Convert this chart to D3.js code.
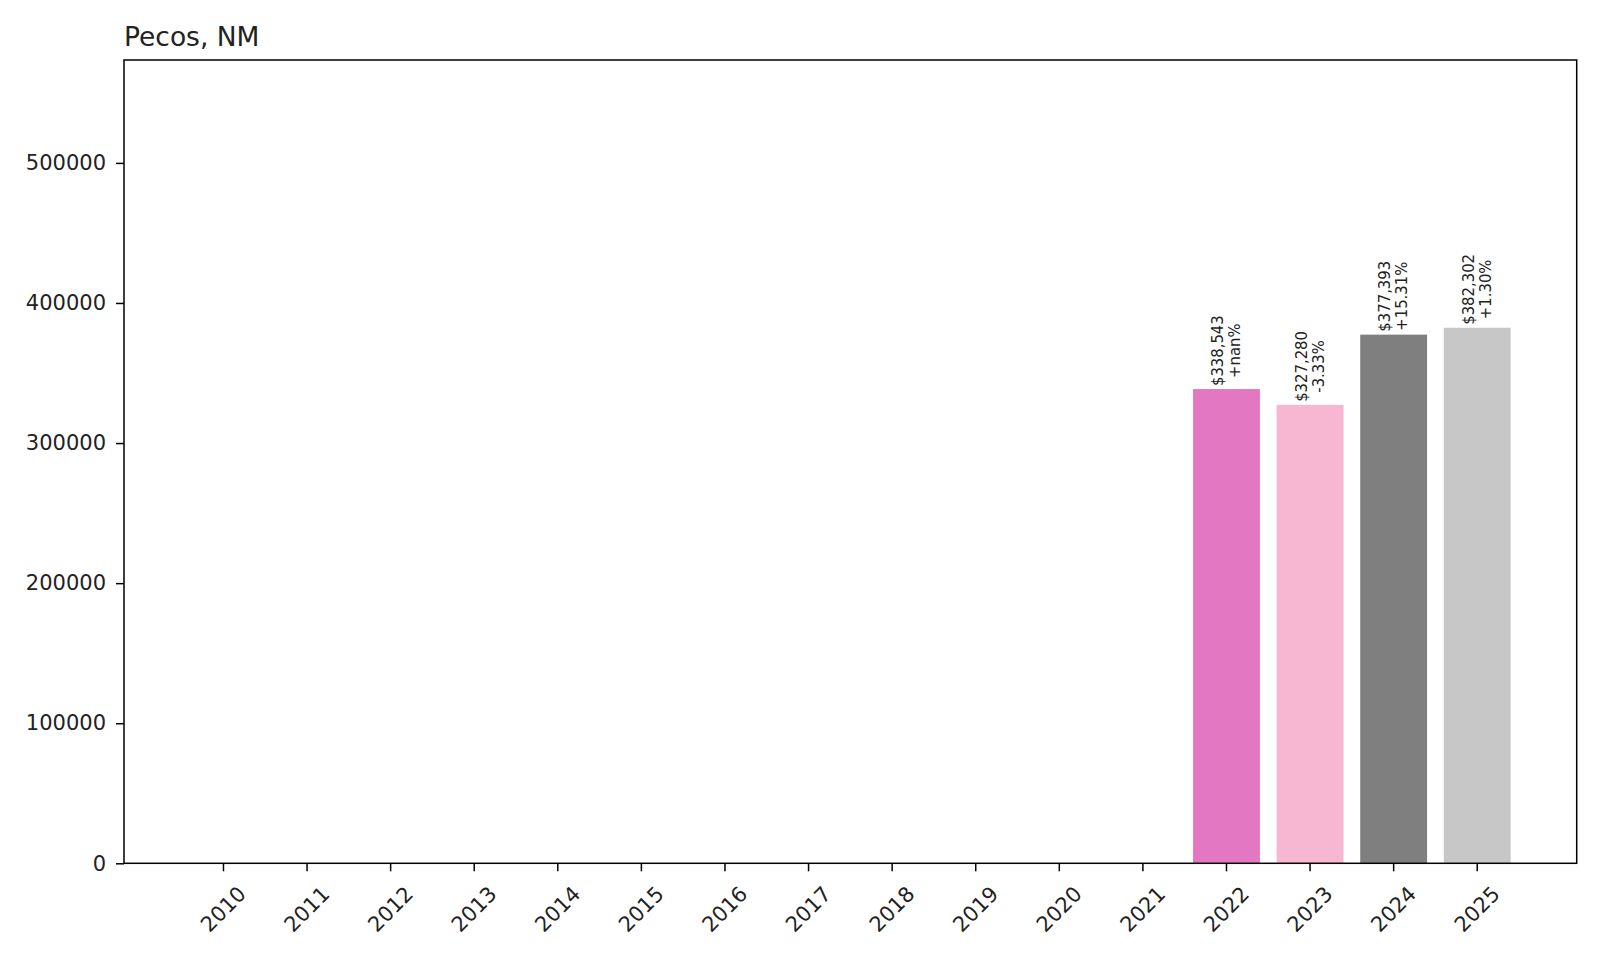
<!DOCTYPE html>
<html>
<head>
<meta charset="utf-8">
<script src="https://cdn.jsdelivr.net/npm/d3@7"></script>
<style>
  html, body { margin: 0; padding: 0; background: #fff; }
  svg { display: block; }
</style>
</head>
<body>
<svg id="chart" width="1600" height="960"></svg>
<script>
const title = "Pecos, NM";
const years = ["2010","2011","2012","2013","2014","2015","2016","2017","2018","2019","2020","2021","2022","2023","2024","2025"];
const values = [null,null,null,null,null,null,null,null,null,null,null,null,338543,327280,377393,382302];
const changeLabels = ["","","","","","","","","","","","","+nan%","-3.33%","+15.31%","+1.30%"];
const barColors = ["#1f77b4","#aec7e8","#ff7f0e","#ffbb78","#2ca02c","#98df8a","#d62728","#ff9896","#9467bd","#c5b0d5","#8c564b","#c49c94","#e377c2","#f7b6d2","#7f7f7f","#c7c7c7"];
const yTicks = [0,100000,200000,300000,400000,500000];

(function () {
const svg = d3.select("#chart");
const mLeft = 124, mRight = 1576.7, mTop = 60, mBottom = 863.3;

const maxV = d3.max(values);
const x = d3.scaleBand().domain(years).range([mLeft, mRight]).paddingInner(0.2).paddingOuter(0.79);
const y = d3.scaleLinear().domain([0, maxV * 1.5]).range([mBottom, mTop]);

const data = years.map((yr, i) => ({year: yr, value: values[i], label: changeLabels[i], color: barColors[i]}));
const shown = data.filter(d => d.value != null);

// bars
svg.append("g").selectAll("rect").data(shown).join("rect")
  .attr("x", d => x(d.year))
  .attr("width", x.bandwidth())
  .attr("y", d => y(d.value))
  .attr("height", d => y(0) - y(d.value))
  .attr("fill", d => d.color);

// annotations
const fmt = d3.format(",");
const ann = svg.append("g").attr("font-family", "'DejaVu Sans Condensed', 'DejaVu Sans', sans-serif")
  .attr("font-size", 16.5).attr("fill", "#222");
shown.forEach(d => {
  const cx = x(d.year) + x.bandwidth() / 2;
  const g = ann.append("g");
  const t1 = g.append("text").text("$" + fmt(d.value)).attr("text-anchor", "middle");
  const t2 = g.append("text").text(d.label).attr("text-anchor", "middle");
  const len = Math.max(t1.node().getComputedTextLength(), t2.node().getComputedTextLength());
  const base = y(d.value) - 3 - len / 2;
  t1.attr("transform", `translate(${cx - 3.5},${base}) rotate(-90)`);
  t2.attr("transform", `translate(${cx + 13.5},${base}) rotate(-90)`);
});

// axes
const fontFam = "'DejaVu Sans', sans-serif";
const xAxis = svg.append("g").attr("transform", `translate(0,${mBottom})`)
  .call(d3.axisBottom(x).tickSize(8).tickSizeOuter(0));
xAxis.select(".domain").remove();
xAxis.selectAll(".tick line").attr("stroke", "#000").attr("stroke-width", 1.5);
xAxis.selectAll(".tick text")
  .attr("font-family", fontFam).attr("font-size", 21).attr("fill", "#222")
  .attr("text-anchor", "middle").attr("dy", null).attr("y", null)
  .attr("dominant-baseline", "central")
  .attr("transform", "translate(0,46) rotate(-45)");

const yAxis = svg.append("g").attr("transform", `translate(${mLeft},0)`)
  .call(d3.axisLeft(y).tickValues(yTicks).tickFormat(d3.format("d")).tickSize(8).tickPadding(10));
yAxis.select(".domain").remove();
yAxis.selectAll(".tick line").attr("stroke", "#000").attr("stroke-width", 1.5);
yAxis.selectAll(".tick text").attr("font-family", fontFam).attr("font-size", 21).attr("fill", "#222");

// frame
svg.append("rect").attr("x", mLeft).attr("y", mTop).attr("width", mRight - mLeft).attr("height", mBottom - mTop)
  .attr("fill", "none").attr("stroke", "#000").attr("stroke-width", 1.5);

// title
svg.append("text").attr("x", mLeft).attr("y", 46).text(title)
  .attr("font-family", fontFam).attr("font-size", 26.5).attr("fill", "#222");
})();
</script>
</body>
</html>
